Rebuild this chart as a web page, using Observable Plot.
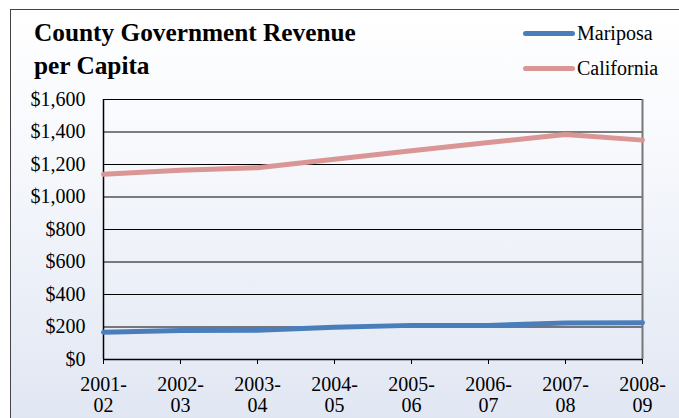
<!DOCTYPE html>
<html><head><meta charset="utf-8">
<script src="https://cdn.jsdelivr.net/npm/d3@7"></script>
<script src="https://cdn.jsdelivr.net/npm/@observablehq/plot@0.6"></script>
<style>
body{margin:0;width:679px;height:418px;overflow:hidden;position:relative;font-family:"Liberation Serif","Times New Roman",serif;background:#fff}
#box{position:absolute;left:10px;top:9px;width:700px;height:430px;border:1.5px solid #444;background:linear-gradient(#ffffff 0%, #f6f8fc 35%, #dfe5f2 100%);}
#title{position:absolute;left:34px;top:16px;font-family:"Liberation Serif","Times New Roman",serif;font-weight:bold;font-size:25.3px;line-height:33px;color:#000;margin:0}
.leg{position:absolute;left:523px;font-family:"Liberation Serif","Times New Roman",serif;font-size:20px;line-height:20px;color:#000;display:flex;align-items:center}
.leg span.sw{display:inline-block;width:52px;height:5px;border-radius:3px;margin-right:2px}
#chart{position:absolute;left:0;top:88px}
#chart svg, #chart svg text, #chart svg g{font-family:"Liberation Serif","Times New Roman",serif !important}
</style>
</head><body>
<div id="box"></div>
<h1 id="title">County Government Revenue<br>per Capita</h1>
<div id="legend"></div>
<div id="chart"></div>
<script>
const years = ["2001-02","2002-03","2003-04","2004-05","2005-06","2006-07","2007-08","2008-09"];
const seriesNames = ["Mariposa","California"];
const seriesColors = ["#4a7ebb","#d99694"];
const mariposa = [168,178,180,198,210,210,224,226];
const california = [1140,1165,1180,1232,1285,1335,1385,1350];
const yTicks = [0,200,400,600,800,1000,1200,1400,1600];

const data = years.flatMap((y,i)=>[
  {year:y, series:"Mariposa", value:mariposa[i]},
  {year:y, series:"California", value:california[i]}
]);

// legend
const legend = document.getElementById("legend");
const legTops = [23, 58];
seriesNames.forEach((n,i)=>{
  const d = document.createElement("div");
  d.className = "leg";
  d.style.top = legTops[i] + "px";
  d.innerHTML = `<span class="sw" style="background:${seriesColors[i]}"></span>${n}`;
  legend.appendChild(d);
});

const serif = "Liberation Serif, Times New Roman, serif";
const chart = Plot.plot({
  width: 679, height: 330,
  marginLeft: 103, marginRight: 37, marginTop: 11, marginBottom: 59,
  style: {background: "transparent", fontFamily: serif, fontSize: "20px", color: "#000", overflow: "visible"},
  x: {type: "point", domain: years, padding: 0},
  y: {domain: [0, 1600]},
  color: {domain: seriesNames, range: seriesColors},
  marks: [
    Plot.gridY(yTicks, {stroke: "#000", strokeOpacity: 1, strokeWidth: 1}),
    Plot.ruleX([years[0]], {stroke: "#000", strokeWidth: 1.5}),
    Plot.ruleX([years[years.length - 1]], {stroke: "#777", strokeWidth: 2, y1: 0, y2: 1600}),
    Plot.axisY(yTicks, {tickSize: 0, tickPadding: 18, tickFormat: d => "$" + d3.format(",")(d), fontSize: 20, fontFamily: serif, fontVariant: "normal", label: null}),
    Plot.axisX(years, {tickSize: 5, tickPadding: 11, tickFormat: d => d.replace("-", "-\n"), lineHeight: 1.08, fontSize: 20, fontFamily: serif, fontVariant: "normal", label: null, stroke: "#000"}),
    Plot.ruleY([0], {stroke: "#000", strokeWidth: 1.5}),
    Plot.line(data, {x: "year", y: "value", stroke: "series", z: "series", strokeWidth: 5})
  ]
});
document.getElementById("chart").appendChild(chart);
</script>
</body></html>
